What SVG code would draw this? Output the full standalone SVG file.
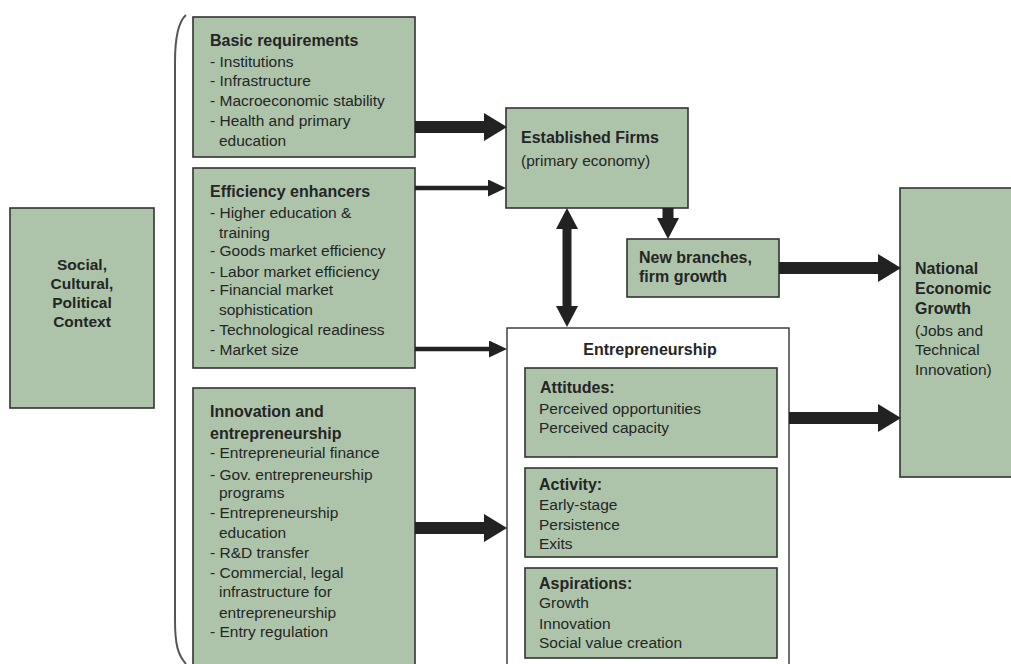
<svg xmlns="http://www.w3.org/2000/svg" width="1011" height="664" viewBox="0 0 1011 664">
<style>
.box{fill:#adc4ab;stroke:#333;stroke-width:1.6}
.wbox{fill:#fff;stroke:#333;stroke-width:1.4}
text{font-family:"Liberation Sans",Arial,sans-serif;fill:#252525}
.t{font-size:16px;font-weight:bold}
.i{font-size:15.5px}
.s{font-size:15.5px;font-weight:bold}
.thick{stroke:#222;stroke-width:12;fill:none}
.thin{stroke:#222;stroke-width:4.5;fill:none}
.brace{fill:none;stroke:#555;stroke-width:2}
</style>
<defs>
<marker id="hThick" markerUnits="userSpaceOnUse" markerWidth="24" markerHeight="28" refX="0" refY="14" orient="auto-start-reverse" viewBox="0 0 24 28"><path d="M0,0 L23,14 L0,28 Z" fill="#222"/></marker>
<marker id="hThin" markerUnits="userSpaceOnUse" markerWidth="19" markerHeight="17" refX="0" refY="8.5" orient="auto" viewBox="0 0 19 17"><path d="M0,0 L18,8.5 L0,17 Z" fill="#222"/></marker>
<marker id="hMid" markerUnits="userSpaceOnUse" markerWidth="22" markerHeight="22" refX="0" refY="11" orient="auto-start-reverse" viewBox="0 0 22 22"><path d="M0,0 L21,11 L0,22 Z" fill="#222"/></marker>
</defs>

<path class="brace" d="M186,15 C178,22 175,40 175,62 L175,620 C175,645 178,655 186,664"/>

<g id="social">
<rect class="box" x="10" y="208" width="144" height="200"/>
<text class="s" text-anchor="middle"><tspan x="82" y="270">Social,</tspan><tspan x="82" y="289">Cultural,</tspan><tspan x="82" y="308">Political</tspan><tspan x="82" y="327">Context</tspan></text>
</g>

<g id="basic">
<rect class="box" x="193" y="17" width="222" height="140"/>
<text class="t" x="210" y="46">Basic requirements</text>
<text class="i"><tspan x="210" y="67">- Institutions</tspan><tspan x="210" y="86">- Infrastructure</tspan><tspan x="210" y="106">- Macroeconomic stability</tspan><tspan x="210" y="126">- Health and primary</tspan><tspan x="219" y="146">education</tspan></text>
</g>

<g id="efficiency">
<rect class="box" x="193" y="168" width="222" height="200"/>
<text class="t" x="210" y="197">Efficiency enhancers</text>
<text class="i"><tspan x="210" y="218">- Higher education &amp;</tspan><tspan x="219" y="238">training</tspan><tspan x="210" y="256">- Goods market efficiency</tspan><tspan x="210" y="277">- Labor market efficiency</tspan><tspan x="210" y="295">- Financial market</tspan><tspan x="219" y="315">sophistication</tspan><tspan x="210" y="335">- Technological readiness</tspan><tspan x="210" y="355">- Market size</tspan></text>
</g>

<g id="innovation">
<rect class="box" x="193" y="388" width="222" height="290"/>
<text class="t"><tspan x="210" y="417">Innovation and</tspan><tspan x="210" y="439">entrepreneurship</tspan></text>
<text class="i"><tspan x="210" y="458">- Entrepreneurial finance</tspan><tspan x="210" y="480">- Gov. entrepreneurship</tspan><tspan x="219" y="498">programs</tspan><tspan x="210" y="518">- Entrepreneurship</tspan><tspan x="219" y="538">education</tspan><tspan x="210" y="558">- R&amp;D transfer</tspan><tspan x="210" y="578">- Commercial, legal</tspan><tspan x="219" y="597">infrastructure for</tspan><tspan x="219" y="618">entrepreneurship</tspan><tspan x="210" y="637">- Entry regulation</tspan></text>
</g>

<g id="established">
<rect class="box" x="506" y="108" width="182" height="100"/>
<text class="t" x="521" y="143">Established Firms</text>
<text class="i" x="521" y="166">(primary economy)</text>
</g>

<g id="newbranches">
<rect class="box" x="627" y="239" width="152" height="58"/>
<text class="t"><tspan x="639" y="263">New branches,</tspan><tspan x="639" y="282">firm growth</tspan></text>
</g>

<g id="entrepreneurship">
<rect class="wbox" x="507" y="328" width="282" height="350"/>
<text class="t" x="650" y="355" text-anchor="middle">Entrepreneurship</text>
</g>

<g id="attitudes">
<rect class="box" x="525" y="368" width="252" height="89"/>
<text class="t" x="540" y="393">Attitudes:</text>
<text class="i"><tspan x="539" y="414">Perceived opportunities</tspan><tspan x="539" y="433">Perceived capacity</tspan></text>
</g>

<g id="activity">
<rect class="box" x="525" y="468" width="252" height="89"/>
<text class="t" x="539" y="490">Activity:</text>
<text class="i"><tspan x="539" y="510">Early-stage</tspan><tspan x="539" y="530">Persistence</tspan><tspan x="539" y="549">Exits</tspan></text>
</g>

<g id="aspirations">
<rect class="box" x="525" y="568" width="252" height="90"/>
<text class="t" x="539" y="589">Aspirations:</text>
<text class="i"><tspan x="539" y="608">Growth</tspan><tspan x="539" y="629">Innovation</tspan><tspan x="539" y="648">Social value creation</tspan></text>
</g>

<g id="national">
<rect class="box" x="900" y="188" width="120" height="289"/>
<text class="t"><tspan x="915" y="274">National</tspan><tspan x="915" y="294">Economic</tspan><tspan x="915" y="314">Growth</tspan></text>
<text class="i"><tspan x="915" y="336">(Jobs and</tspan><tspan x="915" y="355">Technical</tspan><tspan x="915" y="375">Innovation)</tspan></text>
</g>

<g id="connectors">
<path class="thick" d="M415,127 H484" marker-end="url(#hThick)"/>
<path class="thin" d="M415,188 H488" marker-end="url(#hThin)"/>
<path class="thin" d="M415,349 H489" marker-end="url(#hThin)"/>
<path class="thick" d="M415,528 H484" marker-end="url(#hThick)"/>
<path class="thick" d="M779,268 H878" marker-end="url(#hThick)"/>
<path class="thick" d="M789,418 H878" marker-end="url(#hThick)"/>
<path class="thick" style="stroke-width:11" d="M668,208 V218" marker-end="url(#hMid)"/>
<path class="thick" style="stroke-width:9" d="M567,229 V306" marker-start="url(#hMid)" marker-end="url(#hMid)"/>
</g>
</svg>
